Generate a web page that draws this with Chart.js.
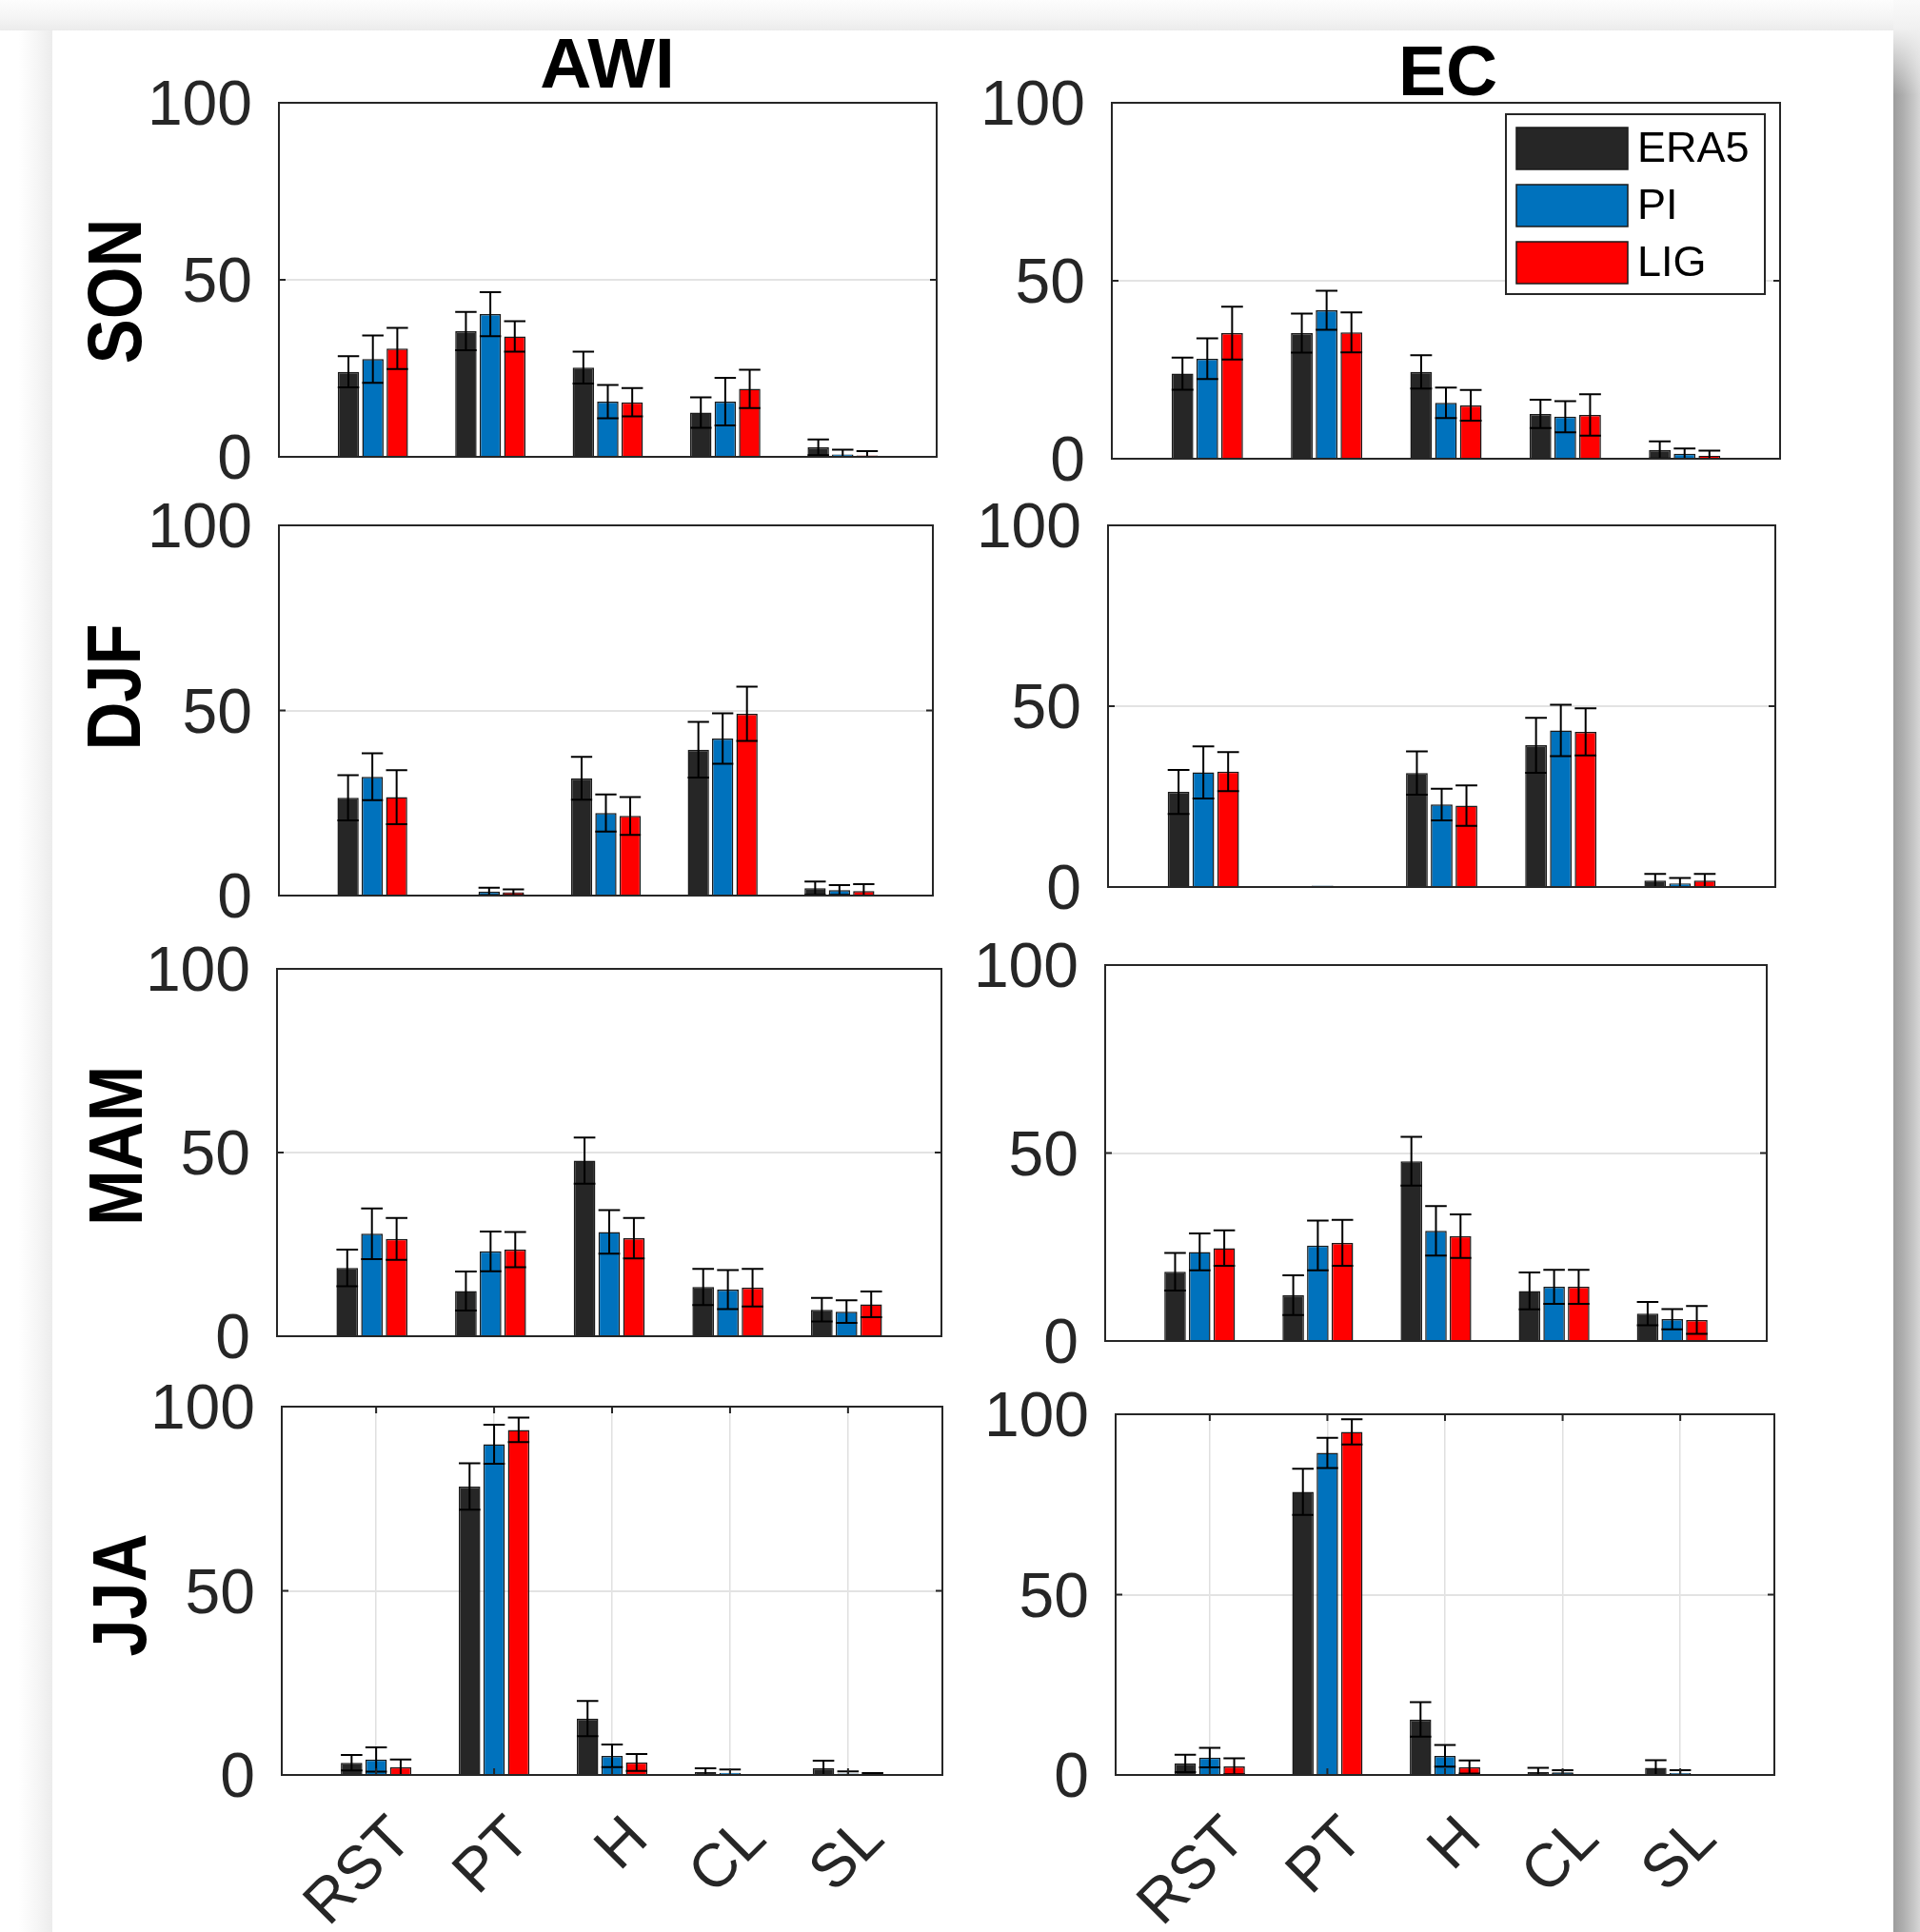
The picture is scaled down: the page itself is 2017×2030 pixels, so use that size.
<!DOCTYPE html>
<html>
<head>
<meta charset="utf-8">
<script src="https://cdn.jsdelivr.net/npm/chart.js@4.4.0/dist/chart.umd.min.js"></script>
<style>
html, body { margin: 0; width: 2017px; height: 2030px; overflow: hidden; }
body { position: relative; background: #fff; font-family: "Liberation Sans", Arial, sans-serif; }
#shadeTop { position: absolute; left: 0; top: 0; width: 1989px; height: 32px; background: linear-gradient(#fdfdfd, #f4f4f4 60%, #ebebeb); }
#shadeLeft { position: absolute; left: 0; top: 32px; width: 55px; height: 1998px; background: linear-gradient(to right, #fff 35%, #f6f6f6 70%, #ececec); }
#shadeRight { position: absolute; left: 1989px; top: 0; width: 28px; height: 2030px; background: linear-gradient(to right, #9c9c9c, #b0b0b0 40%, #c6c6c6 75%, #d6d6d6); }
#shadeRightTop { position: absolute; left: 1989px; top: 0; width: 28px; height: 100px; background: linear-gradient(#fafafa 0, #f0f0f0 30%, rgba(240,240,240,0) 100%); }
.panel { position: absolute; }
.title { position: absolute; font-weight: bold; font-size: 75px; line-height: 1; transform: translateX(-50%); white-space: nowrap; color: #000; }
.rowlab { position: absolute; font-weight: bold; font-size: 80px; line-height: 1; white-space: nowrap; transform: translate(-50%, -50%) rotate(-90deg) scaleX(0.88); color: #000; }
</style>
</head>
<body>
<div id="shadeTop"></div>
<div id="shadeLeft"></div>
<div id="shadeRight"></div>
<div id="shadeRightTop"></div>

<div class="title" style="left:638px; top:29px;">AWI</div>
<div class="title" style="left:1521px; top:37px;">EC</div>
<div class="rowlab" style="left:121px; top:306px;">SON</div>
<div class="rowlab" style="left:120px; top:722px;">DJF</div>
<div class="rowlab" style="left:122px; top:1204px;">MAM</div>
<div class="rowlab" style="left:126px; top:1676px;">JJA</div>

<script>
var categories = ['RST', 'PT', 'H', 'CL', 'SL'];
var positions = [1, 2, 3, 4, 5];
var seriesNames = ['ERA5', 'PI', 'LIG'];
var seriesColors = ['#262626', '#0072BD', '#FF0000'];
var yTicks = [0, 50, 100];

// rows: ERA5, PI, LIG ; columns: RST, PT, H, CL, SL
var awiSON    = [[24.0, 35.5, 25.2, 12.5, 2.7], [27.6, 40.3, 15.6, 15.6, 0.7], [30.6, 34.0, 15.4, 19.2, 0.4]];
var awiSONerr = [[4.4, 5.4, 4.5, 4.3, 2.2], [6.7, 6.2, 4.7, 6.7, 1.3], [5.8, 4.3, 4.0, 5.4, 1.2]];
var ecSON     = [[23.9, 35.3, 24.4, 12.6, 2.5], [28.1, 41.7, 15.7, 11.8, 1.4], [35.3, 35.5, 15.0, 12.3, 0.8]];
var ecSONerr  = [[4.5, 5.5, 4.7, 4.0, 2.4], [5.7, 5.5, 4.3, 4.4, 1.5], [7.4, 5.6, 4.3, 5.8, 1.5]];

var awiDJF    = [[26.4, -0.3, 31.7, 39.4, 2.0], [32.1, 1.1, 22.3, 42.4, 1.5], [26.6, 0.9, 21.5, 49.1, 1.2]];
var awiDJFerr = [[6.1, 0, 5.8, 7.5, 1.8], [6.3, 1.0, 5.0, 6.8, 1.3], [7.3, 0.8, 5.1, 7.3, 1.9]];
var ecDJF     = [[26.3, -0.3, 31.5, 39.2, 1.8], [31.7, 0.4, 22.8, 43.3, 1.0], [31.9, -0.3, 22.5, 42.9, 1.8]];
var ecDJFerr  = [[6.1, 0, 6.0, 7.6, 1.8], [7.2, 0, 4.4, 7.1, 1.5], [5.4, 0, 5.6, 6.5, 1.8]];

var awiMAM    = [[18.6, 12.3, 47.8, 13.4, 7.2], [27.9, 23.1, 28.4, 12.7, 6.7], [26.5, 23.6, 26.7, 13.2, 8.7]];
var awiMAMerr = [[5.0, 5.3, 6.3, 4.9, 3.2], [6.9, 5.4, 5.9, 5.3, 3.1], [5.7, 4.8, 5.5, 5.1, 3.5]];
var ecMAM     = [[18.4, 12.2, 47.8, 13.3, 7.3], [23.7, 25.4, 29.3, 14.4, 5.8], [24.7, 26.1, 27.9, 14.4, 5.6]];
var ecMAMerr  = [[5.0, 5.3, 6.5, 4.9, 3.1], [4.9, 6.6, 6.6, 4.5, 2.7], [4.7, 6.1, 5.8, 4.5, 3.7]];

var awiJJA    = [[3.3, 78.3, 15.3, 0.8, 1.9], [4.2, 89.8, 5.2, 0.6, 0.4], [2.1, 93.7, 3.4, 0.1, 0.3]];
var awiJJAerr = [[2.1, 6.3, 4.8, 1.0, 2.0], [3.3, 5.3, 3.1, 0.9, 0.6], [2.1, 3.3, 2.3, 0, 0.2]];
var ecJJA     = [[3.2, 78.5, 15.4, 0.8, 2.0], [4.8, 89.3, 5.3, 0.7, 0.5], [2.4, 95.1, 2.2, 0.2, 0.2]];
var ecJJAerr  = [[2.4, 6.4, 4.8, 1.2, 2.1], [2.7, 4.2, 3.0, 0.6, 0.8], [2.2, 3.5, 1.8, 0, 0]];

Chart.defaults.font.family = "'Liberation Sans', Arial, sans-serif";
Chart.defaults.color = '#262626';

// error bars, box and inside ticks (matlab style)
var frame = {
    id: 'frame',
    afterDatasetsDraw: function(chart) {
        var a = chart.chartArea, ctx = chart.ctx;
        var xs = chart.scales.x, ys = chart.scales.y;
        ctx.save();
        ctx.beginPath();
        ctx.rect(a.left, a.top, a.right - a.left, a.bottom - a.top);
        ctx.clip();
        ctx.strokeStyle = '#000';
        ctx.lineWidth = 2;
        chart.data.datasets.forEach(function(ds, d) {
            var meta = chart.getDatasetMeta(d);
            meta.data.forEach(function(bar, i) {
                var e = ds.errors[i];
                if (!e) return;
                var v = ds.data[i];
                var top = ys.getPixelForValue(v + e), bot = ys.getPixelForValue(v - e);
                var hw = bar.width / 2;
                ctx.beginPath();
                ctx.moveTo(bar.x, top); ctx.lineTo(bar.x, bot);
                ctx.moveTo(bar.x - hw, top); ctx.lineTo(bar.x + hw, top);
                ctx.moveTo(bar.x - hw, bot); ctx.lineTo(bar.x + hw, bot);
                ctx.stroke();
            });
        });
        ctx.restore();

        ctx.save();
        ctx.strokeStyle = '#262626';
        ctx.lineWidth = 2;
        ctx.strokeRect(a.left, a.top, a.right - a.left, a.bottom - a.top);
        ctx.beginPath();
        var y50 = ys.getPixelForValue(50);
        ctx.moveTo(a.left, y50); ctx.lineTo(a.left + 7, y50);
        ctx.moveTo(a.right, y50); ctx.lineTo(a.right - 7, y50);
        if (chart.options.scales.x.ticks.display) {
            positions.forEach(function(p) {
                var px = xs.getPixelForValue(p);
                ctx.moveTo(px, a.top); ctx.lineTo(px, a.top + 7);
                ctx.moveTo(px, a.bottom); ctx.lineTo(px, a.bottom - 7);
            });
        }
        ctx.stroke();
        ctx.restore();
    }
};

var boxLegend = {
    id: 'boxLegend',
    afterDraw: function(chart) {
        var a = chart.chartArea, ctx = chart.ctx;
        var w = 272, h = 189;
        var left = a.right - 16 - w, top = a.top + 12;
        ctx.save();
        ctx.fillStyle = '#fff';
        ctx.fillRect(left, top, w, h);
        ctx.strokeStyle = '#262626';
        ctx.lineWidth = 2;
        ctx.strokeRect(left, top, w, h);
        ctx.font = "45px 'Liberation Sans', Arial, sans-serif";
        ctx.textBaseline = 'middle';
        chart.data.datasets.forEach(function(ds, i) {
            var sy = top + 14 + i * 60;
            ctx.fillStyle = ds.backgroundColor;
            ctx.fillRect(left + 11, sy, 117, 44);
            ctx.lineWidth = 1.5;
            ctx.strokeStyle = '#1a1a1a';
            ctx.strokeRect(left + 11, sy, 117, 44);
            ctx.fillStyle = '#000';
            ctx.fillText(ds.label, left + 138, sy + 24);
        });
        ctx.restore();
    }
};

var panels = [
    { vals: awiSON, errs: awiSONerr, L: 293, R: 984, T: 108, B: 480, row: 0 },
    { vals: ecSON, errs: ecSONerr, L: 1168, R: 1870, T: 108, B: 482, row: 0, legend: true },
    { vals: awiDJF, errs: awiDJFerr, L: 293, R: 980, T: 552, B: 941, row: 1 },
    { vals: ecDJF, errs: ecDJFerr, L: 1164, R: 1865, T: 552, B: 932, row: 1 },
    { vals: awiMAM, errs: awiMAMerr, L: 291, R: 989, T: 1018, B: 1404, row: 2 },
    { vals: ecMAM, errs: ecMAMerr, L: 1161, R: 1856, T: 1014, B: 1409, row: 2 },
    { vals: awiJJA, errs: awiJJAerr, L: 296, R: 990, T: 1478, B: 1865, row: 3 },
    { vals: ecJJA, errs: ecJJAerr, L: 1172, R: 1864, T: 1486, B: 1865, row: 3 }
];

panels.forEach(function(p) {
    // y tick padding adds to the label overflow, so leave room above and below
    var padTop = 75, padRight = 30, yw = 150;
    var last = p.row === 3;
    var xh = last ? 190 : 75;
    var cv = document.createElement('canvas');
    cv.className = 'panel';
    cv.width = (p.R - p.L) + yw + padRight;
    cv.height = (p.B - p.T) + padTop + xh;
    cv.style.left = (p.L - yw) + 'px';
    cv.style.top = (p.T - padTop) + 'px';
    document.body.appendChild(cv);

    new Chart(cv, {
        type: 'bar',
        data: {
            labels: positions,
            datasets: seriesNames.map(function(name, s) {
                return {
                    label: name,
                    data: p.vals[s],
                    errors: p.errs[s],
                    backgroundColor: seriesColors[s],
                    borderColor: '#1a1a1a',
                    borderWidth: 1.5,
                    barPercentage: 0.875,
                    categoryPercentage: 0.624
                };
            })
        },
        options: {
            responsive: false,
            animation: false,
            devicePixelRatio: 1,
            layout: { padding: { top: padTop, right: padRight, left: 0, bottom: 0 } },
            plugins: { legend: { display: false }, tooltip: { enabled: false } },
            scales: {
                x: {
                    type: 'linear', min: 0.2, max: 5.8, offset: false,
                    afterBuildTicks: function(s) { s.ticks = positions.map(function(v) { return { value: v }; }); },
                    afterFit: function(s) { s.height = xh; },
                    grid: { display: last, offset: false, color: '#e0e0e0', lineWidth: 1.5, drawTicks: false },
                    border: { display: false },
                    ticks: {
                        display: last, autoSkip: false, minRotation: 45, maxRotation: 45,
                        padding: 30, labelOffset: 28, color: '#262626', font: { size: 64 },
                        callback: function(v) { return categories[v - 1]; }
                    }
                },
                y: {
                    min: 0, max: 100,
                    afterBuildTicks: function(s) { s.ticks = yTicks.map(function(v) { return { value: v }; }); },
                    afterFit: function(s) { s.width = yw; },
                    grid: {
                        color: function(c) { return c.tick && c.tick.value === 50 ? '#e3e3e3' : 'rgba(0,0,0,0)'; },
                        lineWidth: 2, drawTicks: false
                    },
                    border: { display: false },
                    ticks: { padding: 28, labelOffset: 5, color: '#262626', font: { size: 66 } }
                }
            }
        },
        plugins: p.legend ? [frame, boxLegend] : [frame]
    });
});
</script>
</body>
</html>
